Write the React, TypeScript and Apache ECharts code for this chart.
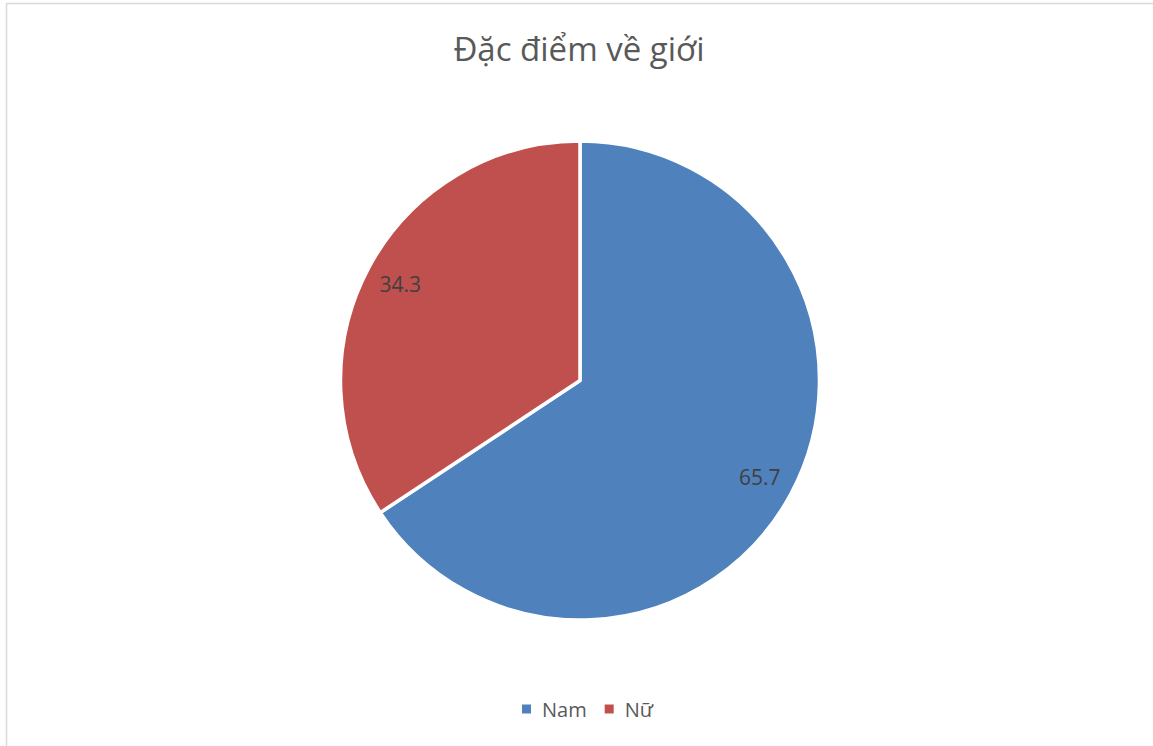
import React, { useEffect, useRef } from "react";
import * as echarts from "echarts";

const categories = ["Nam", "Nữ"];
const values = [65.7, 34.3];
const colors = ["#4F81BD", "#C0504D"];
const titleText = "Đặc điểm về giới";

export default function App() {
  const ref = useRef<HTMLDivElement>(null);
  useEffect(() => {
    if (!ref.current) return;
    const chart = echarts.init(ref.current, undefined, { renderer: "svg" });
    const data = categories.map((name, i) => ({
      name,
      value: values[i],
      itemStyle: { color: colors[i] },
    }));
    const font = "'Open Sans', sans-serif";
    chart.setOption({
      animation: false,
      backgroundColor: "#ffffff",
      title: {
        text: titleText,
        left: 574,
        textAlign: "center",
        top: 27,
        textStyle: {
          fontFamily: font,
          fontSize: 33,
          fontWeight: "normal",
          color: "#595959",
        },
      },
      legend: {
        data: categories.map((name, i) => ({
          name,
          itemStyle: { color: colors[i], borderWidth: 0 },
        })),
        left: 517,
        top: 694,
        icon: "rect",
        itemWidth: 9,
        itemHeight: 9,
        itemGap: 18,
        itemStyle: { borderWidth: 0 },
        textStyle: {
          fontFamily: font,
          fontSize: 20,
          color: "#595959",
          padding: [0, 0, 0, 6],
        },
      },
      graphic: [
        {
          type: "rect",
          shape: { x: 6.5, y: 3.5, width: 1200, height: 800 },
          style: { fill: "none", stroke: "#d9d9d9", lineWidth: 1.5 },
          silent: true,
        },
      ],
      series: [
        {
          type: "pie",
          center: [580, 380.5],
          radius: [0, 239.5],
          startAngle: 90,
          clockwise: true,
          label: { show: false },
          labelLine: { show: false },
          itemStyle: { borderColor: "#ffffff", borderWidth: 3.5 },
          emphasis: { disabled: true },
          data,
        },
        {
          type: "pie",
          center: [580, 380.5],
          radius: [164, 238],
          startAngle: 90,
          clockwise: true,
          silent: true,
          legendHoverLink: false,
          itemStyle: { color: "rgba(0,0,0,0)", borderWidth: 0 },
          label: {
            show: true,
            position: "inside",
            formatter: "{c}",
            fontFamily: font,
            fontSize: 21,
            color: "#404040",
          },
          labelLine: { show: false },
          emphasis: { disabled: true },
          data: categories.map((name, i) => ({ name, value: values[i] })),
        },
      ],
    });
    return () => chart.dispose();
  }, []);
  return (
    <div
      ref={ref}
      style={{ position: "fixed", left: 0, top: 0, width: 1153, height: 746 }}
    />
  );
}
